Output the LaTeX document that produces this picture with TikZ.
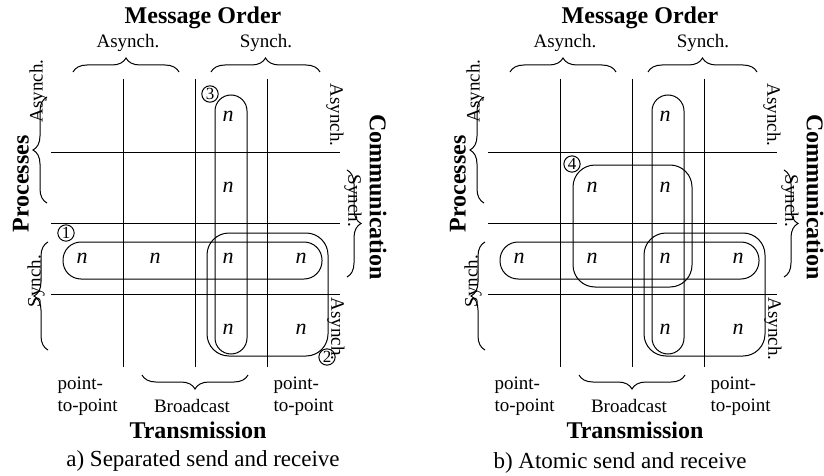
\documentclass[tikz,border=0pt]{standalone}
\usepackage{fontspec}
\setmainfont{Liberation Serif}
\usetikzlibrary{decorations.pathreplacing}

\begin{document}
\begin{tikzpicture}[x=0.5pt, y=-0.5pt, line width=0.5pt,
    lbl/.style={font=\fontsize{9.5}{11}\selectfont, inner sep=0pt},
    ttl/.style={font=\fontsize{12}{14}\selectfont\bfseries, inner sep=0pt},
    var/.style={font=\fontsize{11}{13}\selectfont\itshape, inner sep=0pt},
    tag/.style={circle, draw, inner sep=0.4pt, font=\fontsize{8.5}{9}\selectfont},
    cpt/.style={font=\fontsize{11.5}{13}\selectfont, inner sep=0pt},
    brc/.style={decorate, decoration={brace, amplitude=7pt}}]

  \useasboundingbox (0,0) rectangle (824,476);

  \foreach \p/\dx in {a/0, b/437} {
  \begin{scope}[shift={(\dx,0)}]

    % Grid
    \foreach \x in {123,195,267}
    \draw (\x,79) -- (\x,367);
    \foreach \y in {152,223,294}
    \draw (51,\y) -- (340,\y);

    % Cells
    \foreach \r/\c in {1/3,2/3,3/1,3/2,3/3,3/4,4/3,4/4}
    \node[var] (\p-n\r\c) at (9+73*\c,45+71*\r) {n};

    % Groups
    \draw[rounded corners=8pt] (215,95) rectangle (247,354);
    \draw[rounded corners=9pt] (63,242) rectangle (322,279);
    \draw[rounded corners=11pt] (207,233) rectangle (328,356);

    % Message order
    \node[ttl] (\p-order) at (203,18) {Message Order};
    \node[lbl] (\p-masync) at (128,43) {Asynch.};
    \node[lbl] (\p-msync) at (266,43) {Synch.};
    \draw[brc] (73,72) -- (179,72);
    \draw[brc] (211,72) -- (320,72);

    % Processes
    \node[ttl, rotate=90] (\p-proc) at (21,184) {Processes};
    \node[lbl, rotate=90] (\p-pasync) at (38,91) {Asynch.};
    \node[lbl, rotate=90] (\p-psync) at (36,281) {Synch.};
    \draw[brc] (47,203) -- (47,97);
    \draw[brc] (48,350) -- (48,242);

    % Communication
    \node[ttl, rotate=-90] (\p-comm) at (378,197) {Communication};
    \node[lbl, rotate=-90] (\p-casync) at (335,115) {Asynch.};
    \node[lbl, rotate=-90] (\p-csync) at (353,201) {Synch.};
    \node[lbl, rotate=-90] (\p-casync2) at (336,329) {Asynch.};
    \draw[brc] (347,170) -- (347,277);

    % Transmission
    \node[lbl, align=left, anchor=north west] (\p-ptp1) at (57,376) {point-\\to-point};
    \node[lbl, align=left, anchor=north west] (\p-ptp2) at (273,376) {point-\\to-point};
    \node[lbl] (\p-bcast) at (192,406) {Broadcast};
    \draw[brc] (248,375) -- (142,375);
    \node[ttl] (\p-trans) at (198,430) {Transmission};

  \end{scope}
  }

  % a) separated
  \node[tag] (a-t3) at (210,94) {3};
  \node[tag] (a-t1) at (66,233) {1};
  \node[tag] (a-t2) at (327,357) {2};
  \node[cpt] (a-cap) at (203,461) {a) Separated send and receive};

  % b) atomic
  \node[var] (b-n22) at (592,187) {n};
  \draw[rounded corners=11pt] (573,165) rectangle (692,287);
  \node[tag] (b-t4) at (572,164) {4};
  \node[cpt] (b-cap) at (620,463) {b) Atomic send and receive};

\end{tikzpicture}
\end{document}
